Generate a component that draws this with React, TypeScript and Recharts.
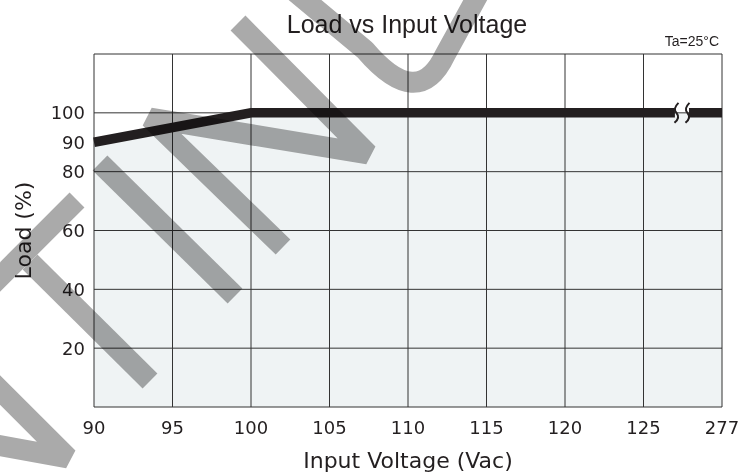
import { ComposedChart, Area, Line, XAxis, YAxis, ReferenceLine, ReferenceDot, Label } from 'recharts'

// category axis: 90 ... 125 are evenly spaced, 277 sits after the break
const xLabels = ['90', '95', '100', '105', '110', '115', '120', '125', '277']
const xPos = [0, 1, 2, 3, 4, 5, 6, 7, 8]

// load curve (positions on the category axis), null = the axis break gap
const curvePos = [0, 2, 7.4, 7.49, 7.58, 8]
const curveLoad = [90, 100, 100, null, 100, 100]
const shadedLoad = [90, 100, 100, 100, 100, 100]

const breakPos = [7.42, 7.56]

const yTicks = [20, 40, 60, 80, 90, 100]
const yGrid = [0, 20, 40, 60, 80, 100, 120]

const data = curvePos.map((x, i) => ({ x, load: curveLoad[i], shade: shadedLoad[i] }))

const GRID = '#333'
const INK = '#231f20'

// big grey watermark strokes sitting over the whole picture
const WATERMARK = [
  'M77,200 L-10,287',
  'M30,262 L150,381',
  'M-20,370 L68,458 L-20,442',
  'M100,163 L235,296',
  'M283,247 L150,118 L368,154 L238,23',
  'M293,-10 L365,50 Q418,112 445,55 L478,-5',
]

function BreakMark(props: any) {
  const { cx, cy } = props
  return (
    <path
      d={`M${cx + 2},${cy - 10} Q${cx - 4},${cy - 4} ${cx},${cy} Q${cx + 4},${cy + 5} ${cx - 2},${cy + 10}`}
      stroke={INK}
      strokeWidth={2}
      fill="none"
    />
  )
}

export default function App() {
  return (
    <div style={{ position: 'fixed', left: 0, top: 0, width: 740, height: 475, background: '#fff' }}>
      <ComposedChart width={740} height={475} data={data} margin={{ top: 54, right: 18, bottom: 0, left: 0 }}>
        <XAxis
          type="number"
          dataKey="x"
          domain={[0, 8]}
          ticks={xPos}
          interval={0}
          tickFormatter={(v: number) => xLabels[v]}
          axisLine={false}
          tickLine={false}
          tickSize={0}
          tickMargin={14}
          height={68}
          tick={{ fill: INK, fontSize: 18, fontFamily: 'DejaVu Sans' }}
        >
          <Label
            content={({ viewBox }: any) => (
              <text
                x={viewBox.x + viewBox.width / 2}
                y={viewBox.y + 61}
                textAnchor="middle"
                fill={INK}
                fontSize={22}
                fontFamily="DejaVu Sans"
              >
                Input Voltage (Vac)
              </text>
            )}
          />
        </XAxis>
        <YAxis
          type="number"
          domain={[0, 120]}
          ticks={yTicks}
          interval={0}
          axisLine={false}
          tickLine={false}
          tickSize={0}
          tickMargin={9}
          width={94}
          tick={{ fill: INK, fontSize: 18, fontFamily: 'DejaVu Sans' }}
        >
          <Label
            content={({ viewBox }: any) => {
              const cx = viewBox.x + 23
              const cy = viewBox.y + viewBox.height / 2
              return (
                <text
                  x={cx}
                  y={cy}
                  transform={`rotate(-90 ${cx} ${cy})`}
                  textAnchor="middle"
                  dominantBaseline="central"
                  fill={INK}
                  fontSize={22}
                  fontFamily="DejaVu Sans"
                >
                  Load (%)
                </text>
              )
            }}
          />
        </YAxis>

        <Area
          type="linear"
          dataKey="shade"
          stroke="none"
          fill="#eff3f4"
          fillOpacity={1}
          isAnimationActive={false}
        />

        {yGrid.map((v) => (
          <ReferenceLine key={`h${v}`} y={v} stroke={GRID} strokeWidth={1} />
        ))}
        {xPos.map((v) => (
          <ReferenceLine key={`v${v}`} x={v} stroke={GRID} strokeWidth={1} />
        ))}

        <Line
          type="linear"
          dataKey="load"
          stroke={INK}
          strokeWidth={9.5}
          strokeLinecap="butt"
          dot={false}
          activeDot={false}
          connectNulls={false}
          isAnimationActive={false}
        />

        {breakPos.map((p) => (
          <ReferenceDot key={p} x={p} y={100} shape={BreakMark} />
        ))}

        <text x={407} y={33} textAnchor="middle" fill={INK} fontSize={25} fontFamily="Liberation Sans">
          Load vs Input Voltage
        </text>
        <text x={719} y={46} textAnchor="end" fill={INK} fontSize={14} fontFamily="Liberation Sans">
          Ta=25°C
        </text>
      </ComposedChart>

      <svg
        width={740}
        height={475}
        style={{ position: 'absolute', left: 0, top: 0, pointerEvents: 'none', mixBlendMode: 'multiply' }}
      >
        {WATERMARK.map((d, i) => (
          <path key={i} d={d} stroke="#aaaaaa" strokeWidth={21} fill="none" strokeLinejoin="bevel" strokeLinecap="butt" />
        ))}
      </svg>
    </div>
  )
}
